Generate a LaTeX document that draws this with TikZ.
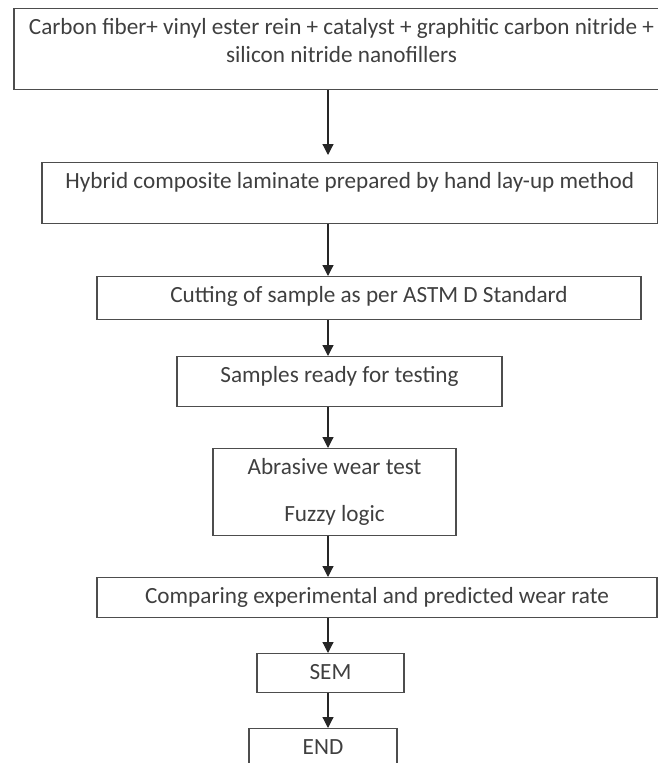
\documentclass[tikz,border=0pt]{standalone}
\usepackage{fontspec}
\setmainfont{Carlito}
\usetikzlibrary{positioning,arrows.meta}
\definecolor{boxline}{HTML}{4D4D4D}
\definecolor{boxtext}{HTML}{3F3F3F}
\tikzset{
  stepbox/.style={draw=boxline, line width=1.2pt, anchor=north, inner xsep=0pt, inner ysep=0pt,
    text height=25.5pt, align=center, text=boxtext, font=\fontsize{23.2}{28}\selectfont},
  flow/.style={draw=black!85, line width=1.2pt, -{Triangle[width=11pt,length=11pt]}}
}

\begin{document}
\begin{tikzpicture}[x=1pt,y=-1pt]
	\useasboundingbox (0,0) rectangle (658,763);
	\coordinate (axis) at (328,0);
	% process steps
	\node[stepbox, minimum width=655pt, text height=53.5pt, text depth=27.5pt] (mix) at (341.5,8)
		{Carbon fiber+ vinyl ester rein + catalyst + graphitic carbon nitride +\\silicon nitride nanofillers};
	\node[stepbox, minimum width=615.5pt, text depth=35.5pt] (lam) at (349.75,162)
		{Hybrid composite laminate prepared by hand lay-up method};
	\node[stepbox, minimum width=544pt, text depth=17.5pt] (cut) at (369,276)
		{Cutting of sample as per ASTM D Standard};
	\node[stepbox, minimum width=325pt, text depth=24.5pt] (ready) at (339.5,356)
		{Samples ready for testing};
	\node[stepbox, minimum width=243pt, text height=72.5pt, text depth=14.5pt] (test) at (334.5,448)
		{Abrasive wear test\\[19pt]Fuzzy logic};
	\node[stepbox, minimum width=560pt, text depth=14.5pt] (comp) at (377,577)
		{Comparing experimental and predicted wear rate};
	\node[stepbox, minimum width=147pt, text depth=13.5pt] (sem) at (330.5,653) {SEM};
	\node[stepbox, minimum width=148pt, text depth=24.5pt] (end) at (323,728) {END};
	% arrows
	\draw[flow, shorten >=7pt] (mix.south -| axis) -- (lam.north -| axis);
	\draw[flow] (lam.south -| axis) -- (cut.north -| axis);
	\draw[flow] (cut.south -| axis) -- (ready.north -| axis);
	\draw[flow] (ready.south -| axis) -- (test.north -| axis);
	\draw[flow] (test.south -| axis) -- (comp.north -| axis);
	\draw[flow] (comp.south -| axis) -- (sem.north -| axis);
	\draw[flow] (sem.south -| axis) -- (end.north -| axis);
\end{tikzpicture}
\end{document}
